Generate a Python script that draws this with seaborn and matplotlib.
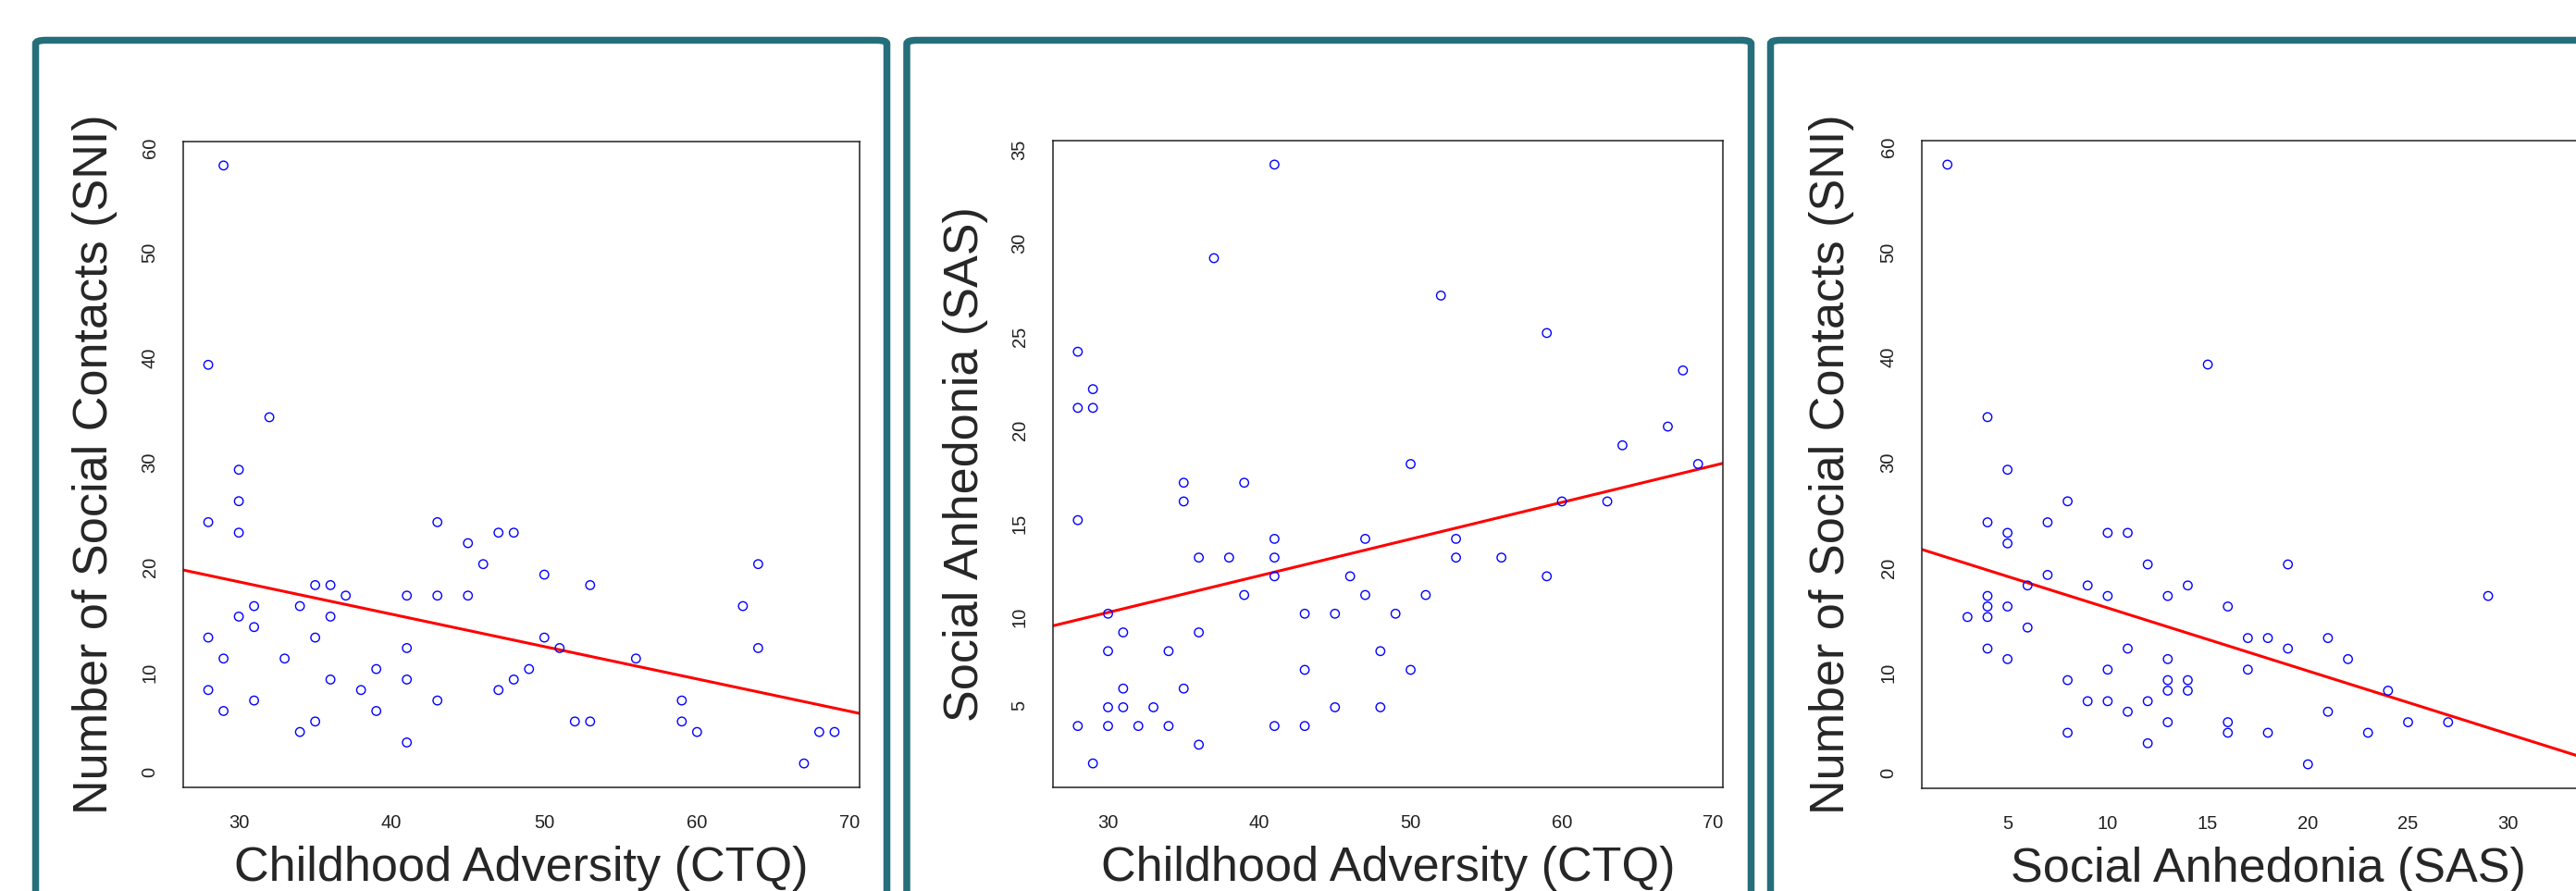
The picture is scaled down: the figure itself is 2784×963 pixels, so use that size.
import numpy as np
import matplotlib
matplotlib.use("Agg")
import matplotlib.pyplot as plt
import seaborn as sns
from matplotlib.patches import FancyBboxPatch

# Panel 1: childhood adversity (CTQ) vs number of social contacts (SNI)
ctq_1 = [28, 28, 28, 28, 29, 29, 29, 30, 30, 30, 30, 31, 31, 31, 32, 33, 34, 34,
         35, 35, 35, 36, 36, 36, 37, 38, 39, 39, 41, 41, 41, 41, 43, 43, 43, 45, 45,
         46, 47, 47, 48, 48, 49, 50, 50, 51, 52, 53, 53, 56, 59, 59, 60, 63, 64, 64,
         67, 68, 69]
sni_1 = [39, 24, 13, 8, 58, 11, 6, 29, 26, 23, 15, 16, 14, 7, 34, 11, 16, 4,
         18, 13, 5, 18, 15, 9, 17, 8, 10, 6, 17, 12, 9, 3, 24, 17, 7, 22, 17,
         20, 23, 8, 23, 9, 10, 19, 13, 12, 5, 18, 5, 11, 7, 5, 4, 16, 20, 12,
         1, 4, 4]

# Panel 2: childhood adversity (CTQ) vs social anhedonia (SAS)
ctq_2 = [28, 28, 28, 28, 29, 29, 29, 30, 30, 30, 30, 31, 31, 31, 32, 33, 34, 34,
         35, 35, 35, 36, 36, 36, 37, 38, 39, 39, 41, 41, 41, 41, 41, 43, 43, 43,
         45, 45, 46, 47, 47, 48, 48, 49, 50, 50, 51, 52, 53, 53, 56, 59, 59, 60,
         63, 64, 67, 68, 69]
sas_2 = [24, 21, 15, 4, 22, 21, 2, 10, 8, 5, 4, 9, 6, 5, 4, 5, 8, 4,
         17, 16, 6, 13, 9, 3, 29, 13, 17, 11, 34, 14, 13, 12, 4, 10, 7, 4,
         10, 5, 12, 14, 11, 8, 5, 10, 18, 7, 11, 27, 14, 13, 13, 25, 12, 16,
         16, 19, 20, 23, 18]

# Panel 3: social anhedonia (SAS) vs number of social contacts (SNI)
sas_3 = [2, 3, 4, 4, 4, 4, 4, 4, 5, 5, 5, 5, 5, 6, 6, 7, 7, 8, 8, 8, 9, 9,
         10, 10, 10, 10, 11, 11, 11, 12, 12, 12, 13, 13, 13, 13, 13, 14, 14, 14,
         15, 16, 16, 16, 17, 17, 18, 18, 19, 19, 20, 21, 21, 22, 23, 24, 25, 27,
         29, 34]
sni_3 = [58, 15, 34, 24, 17, 16, 15, 12, 29, 23, 22, 16, 11, 18, 14, 24, 19, 26, 9, 4, 18, 7,
         23, 17, 10, 7, 23, 12, 6, 20, 7, 3, 17, 11, 9, 8, 5, 18, 9, 8,
         39, 16, 5, 4, 13, 10, 13, 4, 20, 12, 1, 13, 6, 11, 4, 8, 5, 5,
         17, 9]

label_ctq = "Childhood Adversity (CTQ)"
label_sni = "Number of Social Contacts (SNI)"
label_sas = "Social Anhedonia (SAS)"

ticks_ctq = [30, 40, 50, 60, 70]
ticks_sni = [0, 10, 20, 30, 40, 50, 60]
ticks_sas_y = [5, 10, 15, 20, 25, 30, 35]
ticks_sas_x = [5, 10, 15, 20, 25, 30]

W, H = 2784, 963
FRAME = "#246F7B"


def r_limits(values):
    # R style axis range: data range plus 4% on each side
    lo, hi = min(values), max(values)
    pad = 0.04 * (hi - lo)
    return lo - pad, hi + pad


def add_frame(fig, left, right, top):
    # teal rounded border round each panel, running off the bottom
    box = FancyBboxPatch((left / W, -60 / H), (right - left) / W, (H - top + 60) / H,
                         boxstyle="round,pad=0,rounding_size=0.004",
                         transform=fig.transFigure, facecolor="none",
                         edgecolor=FRAME, linewidth=5.4, zorder=0)
    fig.patches.append(box)


def draw_panel(fig, box, x, y, xlabel, ylabel, xticks, yticks, ylab_off):
    left, right, top, bottom = box
    ax = fig.add_axes([left / W, (H - bottom) / H, (right - left) / W, (bottom - top) / H])
    ax.set_xlim(*r_limits(x))
    ax.set_ylim(*r_limits(y))
    sns.regplot(x=x, y=y, ax=ax, ci=None, truncate=False,
                scatter_kws=dict(facecolors="none", s=46, linewidths=1.0, alpha=1, zorder=3),
                line_kws=dict(color="#ff0000", linewidth=2.2, zorder=2),
                color="#0000ff")
    ax.set_xticks(xticks)
    ax.set_yticks(yticks)
    ax.tick_params(axis="both", direction="out", length=10, width=1.1, color="#333333",
                   labelsize=14.5, labelcolor="#222222", pad=9)
    ax.tick_params(axis="x", pad=11)
    ax.tick_params(axis="y", labelrotation=90)
    for s in ax.spines.values():
        s.set_visible(True)
        s.set_color("#222222")
        s.set_linewidth(1.1)
    h = bottom - top
    w = right - left
    ax.set_xlabel(xlabel, fontsize=37.5, va="center")
    ax.set_ylabel(ylabel, fontsize=37.5, va="center")
    ax.xaxis.set_label_coords(0.5, -87 / h)
    ax.yaxis.set_label_coords(-ylab_off / w, 0.5)
    return ax


sns.set_theme(style="white")
plt.rcParams["font.family"] = ["Liberation Sans", "DejaVu Sans"]

fig = plt.figure(figsize=(W / 100, H / 100), dpi=100)
fig.patch.set_facecolor("white")

add_frame(fig, 38.5, 958.5, 43.5)
add_frame(fig, 980, 1892.5, 43.5)
add_frame(fig, 1913.5, 2850, 43.5)

draw_panel(fig, (198, 929, 153, 851), ctq_1, sni_1, label_ctq, label_sni,
           ticks_ctq, ticks_sni, 95)
draw_panel(fig, (1138, 1862, 152, 851), ctq_2, sas_2, label_ctq, label_sas,
           ticks_ctq, ticks_sas_y, 94)
draw_panel(fig, (2077, 2825, 152, 852), sas_3, sni_3, label_sas, label_sni,
           ticks_sas_x, ticks_sni, 97)

fig.savefig("out.png", dpi=100)
